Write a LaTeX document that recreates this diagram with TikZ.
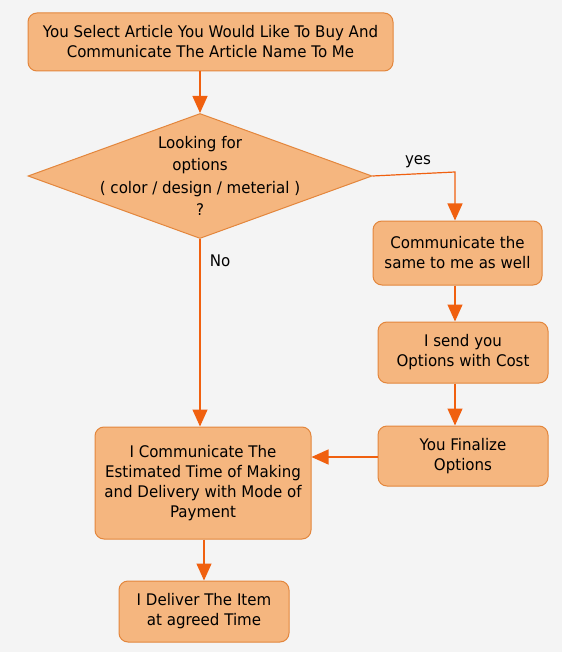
\documentclass[tikz,border=0pt]{standalone}
\usepackage{fontspec}
\setmainfont{DejaVu Sans}[FakeStretch=0.94]
\usetikzlibrary{arrows.meta,shapes.geometric}
\definecolor{bgc}{HTML}{F4F4F4}
\definecolor{boxfill}{HTML}{F5B67F}
\definecolor{boxline}{HTML}{E3863C}
\definecolor{arrowc}{HTML}{F0600F}
\newcommand\boxfont{\fontsize{16}{20}\selectfont}
\newcommand\diafont{\fontsize{16}{22.5}\selectfont}
\tikzset{
  box/.style={draw=boxline, fill=boxfill, rounded corners=9pt, line width=1pt,
    align=center, inner sep=0pt, font=\boxfont, text=black},
  conn/.style={draw=arrowc, line width=1.2pt, -{Triangle[length=17pt,width=15pt]}},
  lbl/.style={font=\boxfont, text=black, inner sep=0pt},
}
\begin{document}
\begin{tikzpicture}[x=1pt,y=-1pt]
\fill[bgc] (0,0) rectangle (562,652);
\useasboundingbox (0,0) rectangle (562,652);

\node[box, minimum width=365pt, minimum height=58pt] (top) at (210.5,42)
  {You Select Article You Would Like To Buy And\\Communicate The Article Name To Me};
\node[diamond, draw=boxline, fill=boxfill, line width=1pt, inner sep=0pt,
  minimum width=344pt, minimum height=125pt] (d) at (200,176) {};
\node[align=center, font=\diafont, inner sep=0pt] (dt) at (d.center)
  {Looking for\\options\\( color / design / meterial )\\?};
\node[box, minimum width=169pt, minimum height=64pt] (b3) at (457.5,253)
  {Communicate the\\same to me as well};
\node[box, minimum width=170pt, minimum height=61pt] (b4) at (463,352.5)
  {I send you\\Options with Cost};
\node[box, minimum width=170pt, minimum height=60pt] (b5) at (463,456)
  {You Finalize\\Options};
\node[box, minimum width=216pt, minimum height=112pt] (b6) at (203,483)
  {I Communicate The\\Estimated Time of Making\\and Delivery with Mode of\\Payment};
\node[box, minimum width=170pt, minimum height=61pt] (b7) at (204,611.5)
  {I Deliver The Item\\at agreed Time};

\coordinate (yc) at (455,172);
\draw[conn] (d.north |- top.south) -- (d.north);
\draw[conn] (d.east) -- (yc) -- (yc |- b3.north);
\draw[conn] (d.south) -- (d.south |- b6.north);
\draw[conn] (b3.south -| yc) -- (b4.north -| yc);
\draw[conn] (b4.south -| yc) -- (b5.north -| yc);
\draw[conn] (b5.west |- 0,457) -- (b6.east |- 0,457);
\draw[conn] (b7.north |- b6.south) -- (b7.north);

\node[lbl] (yes) at (418,162) {yes};
\node[lbl] (no) at (220,261) {No};
\end{tikzpicture}
\end{document}
